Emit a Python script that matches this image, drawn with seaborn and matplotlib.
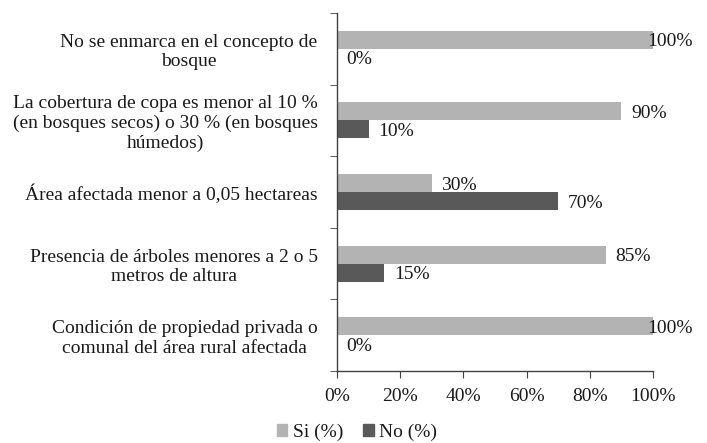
import matplotlib
matplotlib.use("Agg")
import matplotlib.pyplot as plt
import seaborn as sns
import pandas as pd
import numpy as np
from matplotlib.patches import Patch

categorias = [
    "No se enmarca en el concepto de\nbosque",
    "La cobertura de copa es menor al 10 %\n(en bosques secos) o 30 % (en bosques\nhúmedos)",
    "Área afectada menor a 0,05 hectareas",
    "Presencia de árboles menores a 2 o 5\nmetros de altura",
    "Condición de propiedad privada o\ncomunal del área rural afectada",
]
si = [100, 90, 30, 85, 100]
no = [0, 10, 70, 15, 0]
series = ["Si (%)", "No (%)"]
colores = ["#b3b3b3", "#595959"]

df = pd.DataFrame({
    "categoria": categorias * 2,
    "serie": [series[0]] * len(categorias) + [series[1]] * len(categorias),
    "valor": si + no,
})

sns.set_style("white")
plt.rcParams["font.family"] = ["Liberation Serif", "DejaVu Serif"]
plt.rcParams["font.size"] = 14

fig = plt.figure(figsize=(7.07, 4.43), dpi=100)
ax = fig.add_axes([0.4767, 0.1625, 0.4469, 0.8082])

sns.barplot(
    data=df,
    x="valor",
    y="categoria",
    hue="serie",
    palette=colores,
    width=0.5,
    linewidth=0,
    legend=False,
    ax=ax)

# etiquetas de datos
for cont in ax.containers:
    for barra in cont:
        v = barra.get_width()
        yc = barra.get_y() + barra.get_height() / 2
        dx = 7 if v < 100 else -4
        ax.annotate(f"{v:.0f}%", (v, yc), xytext=(dx, -1.5), textcoords="offset points",
                    ha="left", va="center", fontsize=14, color="#1a1a1a")

ax.set_xlim(0, 100)
ax.set_ylim(4.5, -0.5)
ax.set_xticks(np.arange(0, 101, 20))
ax.set_xticklabels([f"{t}%" for t in range(0, 101, 20)])
ax.set_yticks(np.arange(-0.5, 5, 1), minor=True)
ax.tick_params(axis="y", which="major", length=0, pad=14, labelcolor="#1a1a1a")
ax.tick_params(axis="y", which="minor", length=5, color="#404040", direction="out", left=True)
ax.tick_params(axis="x", length=5, color="#404040", direction="out", bottom=True, pad=7,
               labelcolor="#1a1a1a")
for lab in ax.get_yticklabels():
    lab.set_multialignment("center")
ax.set_xlabel("")
ax.set_ylabel("")
sns.despine(ax=ax, top=True, right=True)
for s in ["left", "bottom"]:
    ax.spines[s].set_color("#404040")
    ax.spines[s].set_linewidth(1)

handles = [Patch(color=c, label=s) for c, s in zip(colores, series)]
fig.legend(handles=handles, loc="lower center", bbox_to_anchor=(0.505, -0.035), ncol=2,
           frameon=False, handlelength=0.55, handleheight=0.55, handletextpad=0.3,
           columnspacing=1.0, fontsize=14, labelcolor="#1a1a1a")

plt.savefig("out.png", dpi=100)
plt.close()
